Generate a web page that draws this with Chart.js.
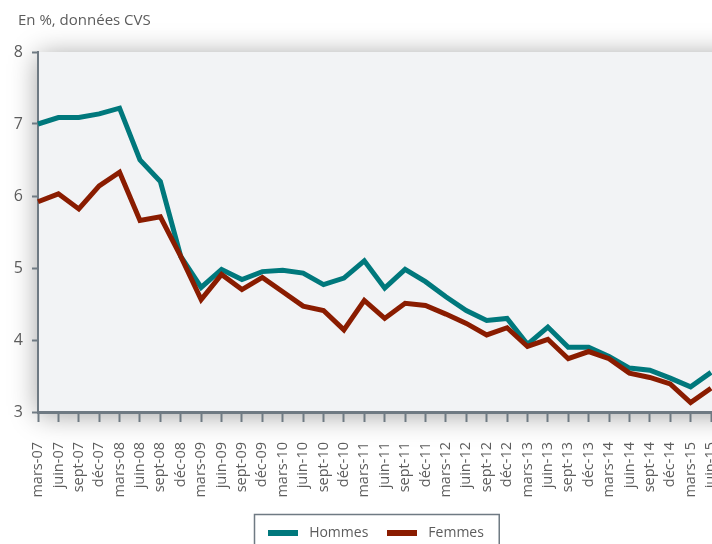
<!DOCTYPE html>
<html>
<head>
<meta charset="utf-8">
<script src="https://cdn.jsdelivr.net/npm/chart.js@4.4.1/dist/chart.umd.min.js"></script>
<style>
    html, body { margin: 0; padding: 0; background: #fff; overflow: hidden; }
</style>
</head>
<body>
<canvas id="chart" width="776" height="550"></canvas>
<script>
// Data (quarterly, seasonally adjusted, %)
const labels = [
    'mars-07', 'juin-07', 'sept-07', 'déc-07',
    'mars-08', 'juin-08', 'sept-08', 'déc-08',
    'mars-09', 'juin-09', 'sept-09', 'déc-09',
    'mars-10', 'juin-10', 'sept-10', 'déc-10',
    'mars-11', 'juin-11', 'sept-11', 'déc-11',
    'mars-12', 'juin-12', 'sept-12', 'déc-12',
    'mars-13', 'juin-13', 'sept-13', 'déc-13',
    'mars-14', 'juin-14', 'sept-14', 'déc-14',
    'mars-15', 'juin-15'
];
const hommes = [
    7.00, 7.09, 7.09, 7.14, 7.22, 6.50, 6.20, 5.16,
    4.73, 4.98, 4.84, 4.95, 4.97, 4.93, 4.77, 4.86,
    5.10, 4.72, 4.98, 4.81, 4.60, 4.41, 4.27, 4.30,
    3.94, 4.18, 3.90, 3.90, 3.77, 3.61, 3.58, 3.47,
    3.35, 3.55
];
const femmes = [
    5.92, 6.03, 5.82, 6.14, 6.33, 5.66, 5.71, 5.16,
    4.56, 4.91, 4.70, 4.87, 4.67, 4.47, 4.41, 4.14,
    4.55, 4.30, 4.51, 4.48, 4.36, 4.23, 4.07, 4.17,
    3.91, 4.01, 3.74, 3.84, 3.74, 3.54, 3.48, 3.39,
    3.13, 3.33
];
const yTicks = [3, 4, 5, 6, 7, 8];

// Colors
const TEAL = '#00787c';
const BROWN = '#8a1c00';
const AXIS = '#6f7a83';
const TEXT = '#5c5c5c';
const FONT = "'Open Sans', 'Noto Sans', sans-serif";

// Legend swatch (thick short line)
function makeSwatch(color) {
    const c = document.createElement('canvas');
    c.width = 30;
    c.height = 6;
    const g = c.getContext('2d');
    g.fillStyle = color;
    g.fillRect(0, 0, 30, 6);
    return c;
}

// Plot background with soft shadow, plus small layout nudges
const plotBackground = {
    id: 'plotBackground',
    afterLayout(chart) {
        // title sits a little right of the axis labels
        if (chart.titleBlock) chart.titleBlock.left = 18;
        // legend is centred a bit to the right in the original
        const lg = chart.legend;
        if (lg) {
            lg.left += 12;
            lg.right += 12;
            (lg.legendHitBoxes || []).forEach(b => { b.left += 12; });
        }
    },
    beforeDraw(chart) {
        const { ctx, chartArea } = chart;
        ctx.save();
        ctx.shadowColor = 'rgba(0, 0, 0, 0.38)';
        ctx.shadowBlur = 26;
        ctx.shadowOffsetY = 3;
        ctx.fillStyle = '#f2f3f5';
        ctx.fillRect(chartArea.left, chartArea.top, chart.width + 60 - chartArea.left, chartArea.bottom - chartArea.top);
        ctx.restore();
    }
};

// Frame around the legend
const legendFrame = {
    id: 'legendFrame',
    afterDraw(chart) {
        const boxes = chart.legend.legendHitBoxes;
        if (!boxes || !boxes.length) return;
        const ctx = chart.ctx;
        const left = Math.min(...boxes.map(b => b.left)) - 10;
        const right = Math.max(...boxes.map(b => b.left + b.width)) + 15;
        const cy = boxes[0].top + boxes[0].height / 2;
        ctx.save();
        ctx.strokeStyle = AXIS;
        ctx.lineWidth = 1.5;
        ctx.strokeRect(Math.round(left) + 0.5, Math.round(cy - 19) + 0.5, right - left, 60);
        ctx.restore();
    }
};

const ctx = document.getElementById('chart').getContext('2d');
const chart = new Chart(ctx, {
    type: 'line',
    data: {
        labels: labels,
        datasets: [{
            label: 'Hommes',
            data: hommes,
            borderColor: TEAL,
            backgroundColor: TEAL,
            borderWidth: 5,
            borderJoinStyle: 'miter',
            pointRadius: 0,
            pointStyle: makeSwatch(TEAL),
            tension: 0,
            order: 1
        }, {
            label: 'Femmes',
            data: femmes,
            borderColor: BROWN,
            backgroundColor: BROWN,
            borderWidth: 5,
            borderJoinStyle: 'miter',
            pointRadius: 0,
            pointStyle: makeSwatch(BROWN),
            tension: 0,
            order: 0
        }]
    },
    options: {
        responsive: false,
        animation: false,
        layout: {
            padding: { left: 13, right: 65, top: 0, bottom: 0 }
        },
        plugins: {
            title: {
                display: true,
                text: 'En %, données CVS',
                align: 'start',
                color: TEXT,
                font: { family: FONT, size: 15, weight: 'normal' },
                padding: { top: 12, bottom: 22 }
            },
            legend: {
                display: true,
                position: 'bottom',
                labels: {
                    usePointStyle: true,
                    pointStyleWidth: 38,
                    color: TEXT,
                    font: { family: FONT, size: 14 },
                    padding: 15,
                    sort: (a, b) => a.datasetIndex - b.datasetIndex
                }
            },
            tooltip: { enabled: false }
        },
        scales: {
            x: {
                offset: false,
                afterFit: (scale) => {
                    scale.height = 99;
                },
                grid: {
                    display: true,
                    drawOnChartArea: false,
                    drawTicks: true,
                    tickLength: 10,
                    tickWidth: 2,
                    tickColor: AXIS
                },
                border: { display: true, color: AXIS, width: 3 },
                ticks: {
                    autoSkip: false,
                    minRotation: 90,
                    maxRotation: 90,
                    padding: 20,
                    color: TEXT,
                    font: { family: FONT, size: 14.5 }
                }
            },
            y: {
                min: 3,
                max: 8,
                afterBuildTicks: (scale) => {
                    scale.ticks = yTicks.map(v => ({ value: v }));
                },
                afterFit: (scale) => {
                    scale.width = 25;
                },
                grid: {
                    display: true,
                    drawOnChartArea: false,
                    drawTicks: true,
                    tickLength: 6,
                    tickWidth: 2,
                    tickColor: AXIS
                },
                border: { display: true, color: AXIS, width: 2 },
                ticks: {
                    padding: 9,
                    color: TEXT,
                    font: { family: FONT, size: 16 }
                }
            }
        }
    },
    plugins: [plotBackground, legendFrame]
});
</script>
</body>
</html>
